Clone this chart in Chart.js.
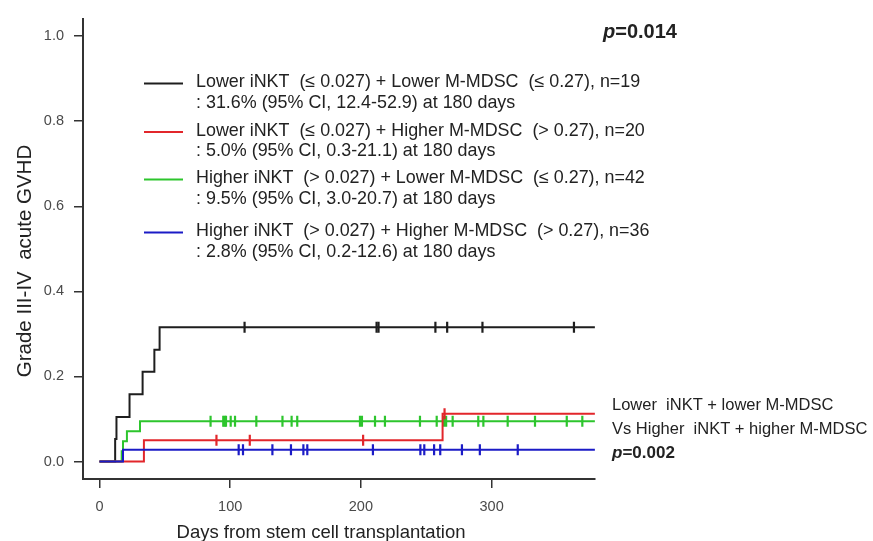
<!DOCTYPE html>
<html><head><meta charset="utf-8">
<script src="https://cdn.jsdelivr.net/npm/chart.js@4.4.1/dist/chart.umd.min.js"></script>
<style>html,body{margin:0;padding:0;background:#fff;}canvas{display:block;}</style>
</head><body>
<canvas id="c" width="873" height="541"></canvas>
<script>
// ---- data ----
const xTicks = [0, 100, 200, 300];
const yTicks = [0, 0.2, 0.4, 0.6, 0.8, 1.0];
const xTitle = 'Days from stem cell transplantation';
const yTitle = 'Grade III-IV  acute GVHD';

const seriesNames = [
  'Lower iNKT  (\u2264 0.027) + Lower M-MDSC  (\u2264 0.27), n=19',
  'Lower iNKT  (\u2264 0.027) + Higher M-MDSC  (> 0.27), n=20',
  'Higher iNKT  (> 0.027) + Lower M-MDSC  (\u2264 0.27), n=42',
  'Higher iNKT  (> 0.027) + Higher M-MDSC  (> 0.27), n=36'
];
const seriesNotes = [
  ': 31.6% (95% CI, 12.4-52.9) at 180 days',
  ': 5.0% (95% CI, 0.3-21.1) at 180 days',
  ': 9.5% (95% CI, 3.0-20.7) at 180 days',
  ': 2.8% (95% CI, 0.2-12.6) at 180 days'
];

const blackTimes  = [0, 12, 13, 23, 33, 42, 46, 379];
const blackValues = [0, 0.053, 0.105, 0.158, 0.211, 0.263, 0.316, 0.316];
const blackCensored = [111, 212, 213.5, 257, 266, 293, 363];

const redTimes  = [0, 34, 262.5, 379];
const redValues = [0, 0.05, 0.1125, 0.1125];
const redCensored = [89.5, 115, 201.7, 264];

const greenTimes  = [0, 17, 18, 21, 31, 379];
const greenValues = [0, 0.024, 0.048, 0.071, 0.095, 0.095];
const greenCensored = [85, 94.7, 95.8, 96.8, 100.4, 103.7, 120, 140, 147, 151.3, 199.3, 200.8,
  210.8, 218.4, 245.2, 258, 263.6, 265.2, 270.2, 289.8, 293.7, 312.3, 333.2, 357.5, 369.4];

const blueTimes  = [0, 18, 379];
const blueValues = [0, 0.028, 0.028];
const blueCensored = [106.5, 109.8, 132.3, 146.5, 156, 159, 209.2, 245.5, 248.5, 256, 260.7,
  277.3, 291, 320];

const pOverall = '=0.014';
const compareLines = ['Lower  iNKT + lower M-MDSC', 'Vs Higher  iNKT + higher M-MDSC'];
const pPair = '=0.002';

// ---- styling ----
const colors = ['#1e1e1e', '#e2262b', '#2dc52d', '#1b1bc6'];
const FONT = "'Liberation Sans', Arial, sans-serif";

function stepValue(times, values, t) {
  let v = values[0];
  for (let i = 0; i < times.length; i++) { if (times[i] <= t) v = values[i]; }
  return v;
}
function curve(times, values) { return times.map((t, i) => ({x: t, y: values[i]})); }
function marks(times, values, cens) { return cens.map(t => ({x: t, y: stepValue(times, values, t)})); }

const groups = [
  [blackTimes, blackValues, blackCensored],
  [redTimes, redValues, redCensored],
  [greenTimes, greenValues, greenCensored],
  [blueTimes, blueValues, blueCensored]
];
const drawOrder = [3, 1, 2, 0]; // blue on top
const datasets = [];
groups.forEach((g, i) => {
  datasets.push({
    label: seriesNames[i], data: curve(g[0], g[1]), borderColor: colors[i], borderWidth: 2,
    stepped: true, pointRadius: 0, fill: false, order: drawOrder[i] * 2 + 1
  });
  datasets.push({
    label: seriesNames[i] + ' censored', data: marks(g[0], g[1], g[2]), showLine: false,
    pointStyle: 'line', rotation: 90, pointRadius: 5.5, pointBorderWidth: 2.2,
    borderColor: colors[i], backgroundColor: colors[i], order: drawOrder[i] * 2
  });
});

const overlay = {
  id: 'overlay',
  afterDraw(chart) {
    const ctx = chart.ctx;
    ctx.save();
    ctx.fillStyle = '#222';
    ctx.textBaseline = 'middle';
    // legend
    const rowY = [82.5, 131, 178.5, 231.5];
    ctx.font = '17.9px ' + FONT;
    rowY.forEach((y, i) => {
      ctx.strokeStyle = colors[i]; ctx.lineWidth = 2;
      ctx.beginPath(); ctx.moveTo(144, y + 1); ctx.lineTo(183, y + 1); ctx.stroke();
      ctx.textAlign = 'left';
      ctx.fillText(seriesNames[i], 196, y);
      ctx.fillText(seriesNotes[i], 196, y + 20.5);
    });
    // overall p
    ctx.font = 'italic bold 20px ' + FONT;
    ctx.fillText('p', 603, 32);
    let w = ctx.measureText('p').width;
    ctx.font = 'bold 20px ' + FONT;
    ctx.fillText(pOverall, 603 + w, 32);
    // pairwise comparison
    ctx.font = '16.5px ' + FONT;
    ctx.fillText(compareLines[0], 612, 405);
    ctx.fillText(compareLines[1], 612, 429.5);
    ctx.font = 'italic bold 17px ' + FONT;
    ctx.fillText('p', 612, 453);
    w = ctx.measureText('p').width;
    ctx.font = 'bold 17px ' + FONT;
    ctx.fillText(pPair, 612 + w, 453);
    // axis titles
    ctx.font = '18.5px ' + FONT;
    ctx.textAlign = 'center';
    ctx.fillText(xTitle, 321, 533);
    ctx.font = '20.5px ' + FONT;
    ctx.translate(25, 261);
    ctx.rotate(-Math.PI / 2);
    ctx.fillText(yTitle, 0, 0);
    ctx.restore();
  }
};

new Chart(document.getElementById('c'), {
  type: 'line',
  data: {datasets},
  options: {
    responsive: false, animation: false, devicePixelRatio: 1,
    layout: {padding: {left: 0, right: 278, top: 17, bottom: 0}},
    plugins: {legend: {display: false}, tooltip: {enabled: false}},
    scales: {
      x: {
        type: 'linear', min: -12.6, max: 379.1,
        afterBuildTicks: s => { s.ticks = xTicks.map(v => ({value: v})); },
        afterFit: s => { s.height = 62; },
        border: {display: true, color: '#333', width: 2},
        grid: {drawOnChartArea: false, drawTicks: true, tickLength: 9, color: '#333', lineWidth: 1.5},
        ticks: {color: '#4a4a4a', font: {family: FONT, size: 14.5}, padding: 10, maxRotation: 0,
          callback: v => String(v)}
      },
      y: {
        type: 'linear', min: -0.041, max: 1.041,
        afterBuildTicks: s => { s.ticks = yTicks.map(v => ({value: v})); },
        afterFit: s => { s.width = 83; },
        border: {display: true, color: '#333', width: 2},
        grid: {drawOnChartArea: false, drawTicks: true, tickLength: 9, color: '#333', lineWidth: 1.5},
        ticks: {color: '#4a4a4a', font: {family: FONT, size: 14.5}, padding: 10,
          callback: v => v.toFixed(1)}
      }
    }
  },
  plugins: [overlay]
});
</script>
</body></html>
